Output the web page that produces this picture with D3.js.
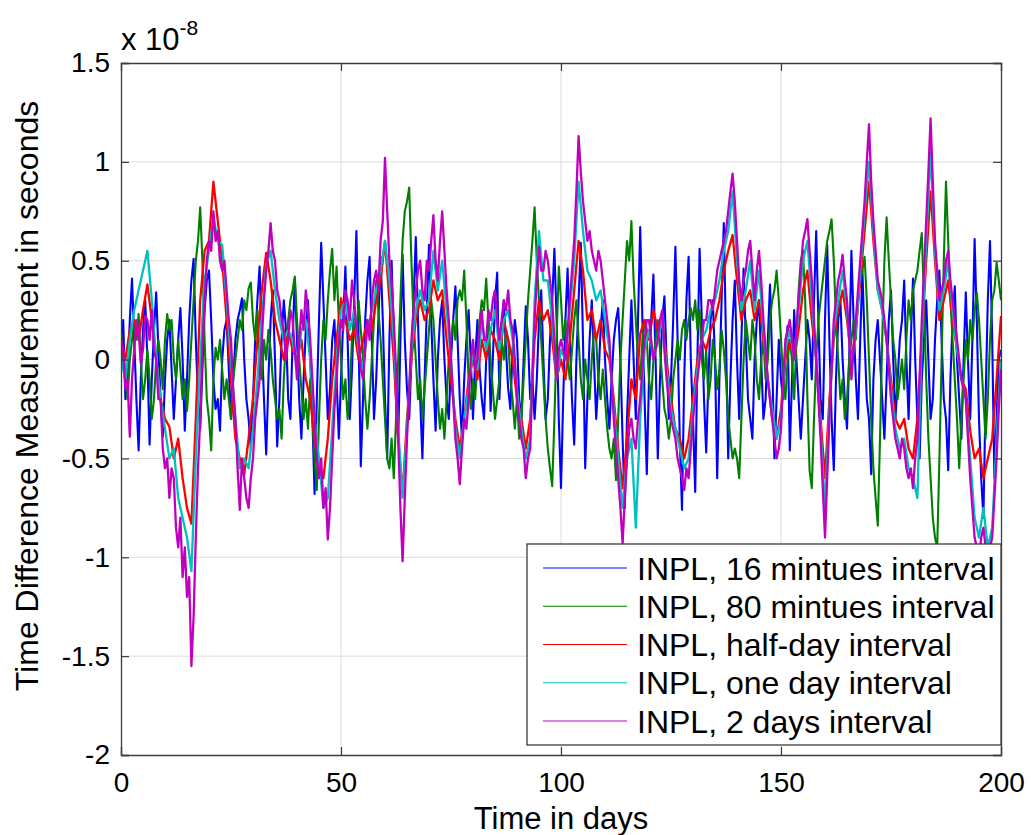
<!DOCTYPE html>
<html><head><meta charset="utf-8">
<script src="https://cdn.jsdelivr.net/npm/d3@7"></script>
<style>
body{margin:0;background:#fff}
svg{display:block}
text{font-family:"Liberation Sans",Arial,Helvetica,sans-serif;fill:#000}
</style>
</head><body>
<svg id="chart" width="1031" height="835"></svg>
<script>
// ---- data (values in units of 1e-8 s) ----
const xTicks = [0, 50, 100, 150, 200];
const yTicks = [-2, -1.5, -1, -0.5, 0, 0.5, 1, 1.5];
const yTickLabels = ["-2", "-1.5", "-1", "-0.5", "0", "0.5", "1", "1.5"];
const seriesNames = ["INPL, 16 mintues interval", "INPL, 80 mintues interval", "INPL, half-day interval", "INPL, one day interval", "INPL, 2 days interval"];
const stepBlue = 0.5, stepGreen = 0.5, stepRed = 1, stepCyan = 1, stepMagenta = 0.5;

const blue16min = [
0.0,0.2,-0.2,-0.1,0.2,0.41,0.1,-0.2,-0.46,-0.1,0.15,0.3,0.0,-0.43,-0.1,0.15,0.34,0.05,-0.2,-0.39,
-0.1,0.1,0.2,-0.05,-0.3,-0.1,0.1,0.26,0.0,-0.36,-0.1,0.2,0.4,0.51,0.1,-0.2,-0.35,-0.05,0.25,0.4,
0.45,0.2,-0.1,-0.25,-0.2,-0.36,0.0,0.15,0.2,-0.05,-0.3,-0.1,0.1,0.2,0.25,0.31,0.0,-0.2,-0.3,-0.45,
-0.2,0.1,0.3,0.47,0.1,-0.2,-0.48,-0.1,0.2,0.35,0.0,-0.44,-0.2,0.1,0.3,0.15,-0.2,-0.3,0.1,0.41,
0.1,-0.2,-0.4,-0.1,0.15,0.3,0.0,-0.3,-0.68,-0.2,0.2,0.59,0.3,0.0,-0.3,-0.15,0.1,0.2,-0.1,-0.4,
-0.1,0.2,0.47,0.1,-0.3,-0.05,0.3,0.65,0.1,-0.54,-0.2,0.2,0.4,0.52,0.1,-0.3,-0.1,0.2,0.52,0.2,
-0.2,-0.5,0.1,0.5,0.1,-0.2,-0.41,0.1,0.53,0.1,-0.15,-0.3,0.0,0.3,0.62,0.2,-0.2,-0.5,-0.1,0.25,
0.58,0.2,-0.1,-0.36,0.0,0.2,0.3,0.0,-0.2,-0.3,0.0,0.2,0.37,0.1,-0.2,-0.4,-0.1,0.1,0.25,0.0,
-0.3,0.0,0.2,-0.05,-0.2,-0.3,0.0,0.2,-0.26,0.0,0.3,0.44,-0.2,0.1,0.3,0.05,-0.15,-0.25,0.05,0.2,
0.1,-0.2,-0.3,0.0,0.27,0.1,-0.2,-0.1,-0.3,-0.1,0.2,0.35,0.0,-0.3,-0.2,0.1,0.3,0.56,0.2,-0.3,
-0.65,-0.2,0.2,0.46,0.1,-0.2,-0.43,0.0,0.3,0.59,0.1,-0.55,-0.2,0.1,0.3,0.0,-0.3,-0.1,0.15,0.3,
0.0,-0.2,-0.35,-0.1,0.1,0.2,0.26,0.0,-0.4,-0.75,-0.3,0.0,0.3,0.0,-0.3,0.2,0.67,0.2,-0.2,-0.58,
-0.1,0.2,0.43,0.0,-0.5,-0.1,0.2,0.32,0.0,-0.3,-0.1,0.2,0.57,0.1,-0.4,-0.76,-0.1,0.3,0.52,0.0,
-0.3,-0.67,0.0,0.56,0.2,-0.2,-0.47,-0.1,0.2,0.3,0.0,-0.6,-0.1,0.3,0.69,0.1,-0.5,-0.1,0.2,0.4,
0.0,-0.3,0.1,0.46,0.1,-0.2,-0.3,-0.4,0.0,0.2,0.3,0.0,-0.3,-0.2,0.1,0.38,0.0,-0.5,-0.2,0.1,
-0.1,-0.2,0.05,0.17,-0.46,-0.1,0.25,0.0,-0.2,-0.4,-0.2,0.0,0.2,0.1,-0.1,0.3,0.65,0.2,-0.2,-0.3,
0.2,0.58,0.1,-0.3,-0.56,-0.1,0.2,0.3,0.0,-0.2,-0.35,0.0,0.55,0.2,-0.1,-0.3,0.1,0.45,0.1,-0.2,
-0.3,-0.58,-0.1,0.1,0.2,0.0,-0.2,-0.4,-0.1,0.2,0.35,0.0,-0.3,-0.1,0.1,0.2,0.4,0.0,-0.3,0.1,
0.41,0.0,-0.3,-0.5,-0.1,0.1,0.3,0.0,-0.3,-0.2,0.1,0.3,0.45,0.1,-0.2,-0.3,-0.56,-0.1,0.2,0.37,
0.0,-0.2,-0.4,0.0,0.34,0.0,-0.3,0.1,0.61,0.2,-0.3,-0.6,-0.8,-0.2,0.3,0.6,0.1,-0.6,-0.3,0.0,0.05];

const green80min = [
0.15,0.0,-0.1,-0.2,0.0,0.1,0.2,0.1,0.23,0.0,-0.2,-0.1,0.05,-0.1,-0.3,-0.2,0.0,0.1,0.0,-0.15,
0.1,0.23,0.15,0.2,0.0,-0.1,0.1,-0.05,-0.2,-0.1,-0.26,-0.1,0.1,0.3,0.5,0.6,0.77,0.5,0.1,-0.2,
-0.3,-0.46,-0.1,0.06,0.0,0.1,-0.05,-0.2,-0.1,-0.2,-0.3,-0.1,0.0,0.1,0.2,0.15,0.3,0.25,0.36,0.39,
0.2,0.1,0.25,0.0,-0.1,0.1,0.0,0.15,0.05,-0.1,-0.2,-0.3,-0.25,-0.4,-0.1,0.1,0.2,0.3,0.35,0.42,
0.2,0.0,-0.15,-0.3,-0.2,-0.35,-0.1,-0.3,-0.5,-0.66,-0.3,0.0,0.2,0.1,0.3,0.45,0.56,0.3,0.47,0.2,
0.0,-0.2,-0.1,-0.3,-0.15,0.1,0.2,0.1,0.3,0.15,0.0,-0.2,-0.35,-0.2,0.0,0.2,0.4,0.25,0.1,-0.1,
-0.3,-0.5,-0.55,-0.4,-0.6,-0.3,0.0,0.3,0.6,0.75,0.8,0.87,0.5,0.2,0.0,-0.2,-0.1,-0.3,-0.15,0.0,
0.15,0.3,0.2,0.0,-0.2,-0.35,-0.25,-0.4,-0.2,0.0,0.1,0.2,0.1,0.3,0.35,0.3,0.45,0.2,-0.1,-0.25,
-0.1,-0.2,0.0,0.2,0.3,0.25,0.41,0.2,0.0,-0.15,-0.3,-0.2,-0.1,0.1,0.0,0.15,0.1,-0.1,-0.2,-0.35,
-0.2,-0.4,-0.3,-0.1,0.1,0.3,0.45,0.6,0.77,0.5,0.3,0.1,-0.1,-0.3,-0.45,-0.55,-0.64,-0.3,0.1,0.47,
0.3,0.1,0.2,0.0,-0.1,0.05,0.2,0.3,0.1,-0.1,-0.2,0.0,-0.1,-0.2,0.0,0.15,0.1,-0.1,-0.2,-0.05,
-0.2,-0.35,-0.45,-0.5,-0.4,-0.61,-0.3,0.0,0.2,0.4,0.6,0.5,0.7,0.4,0.2,0.0,-0.1,0.1,0.2,0.1,
-0.1,-0.2,0.0,0.1,0.2,0.05,-0.1,-0.25,-0.3,-0.4,-0.3,-0.1,0.0,0.1,0.0,0.15,0.2,0.1,0.2,0.26,
0.2,0.3,0.15,0.25,0.0,-0.1,0.05,-0.2,-0.1,0.1,0.0,-0.15,-0.05,0.15,0.05,-0.1,-0.3,-0.4,-0.5,-0.45,
-0.5,-0.6,-0.3,0.0,0.2,0.1,0.0,0.2,0.1,-0.1,-0.2,0.0,0.1,-0.1,0.0,0.2,0.3,0.35,0.45,0.3,
0.1,-0.1,-0.2,0.0,0.1,0.0,-0.2,0.1,0.35,0.5,0.55,0.3,-0.2,-0.56,-0.65,-0.3,0.0,0.2,0.3,0.4,
0.5,0.6,0.65,0.71,0.5,0.2,0.0,-0.2,-0.1,-0.3,-0.2,0.0,0.1,0.2,0.1,0.3,0.4,0.45,0.52,0.3,
0.0,-0.3,-0.55,-0.7,-0.84,-0.4,0.1,0.5,0.72,0.5,0.3,0.1,0.0,-0.2,-0.1,0.0,-0.15,0.1,0.3,0.2,
0.35,0.4,0.45,0.55,0.64,0.3,-0.1,-0.4,-0.6,-0.8,-0.9,-0.95,-0.5,0.0,0.5,0.9,0.6,0.3,0.1,-0.1,
-0.3,-0.55,-0.3,-0.1,0.1,0.0,0.2,0.1,0.25,0.34,0.2,0.0,-0.2,-0.4,-0.2,0.1,0.3,0.35,0.49,0.4,0.3];

const redHalfDay = [
0.1,0.0,0.15,0.2,0.1,0.25,0.38,0.2,0.0,-0.2,
-0.3,-0.34,-0.5,-0.4,-0.6,-0.75,-0.83,-0.3,0.3,0.55,
0.6,0.9,0.7,0.5,0.2,-0.1,-0.4,-0.5,-0.58,-0.4,
-0.2,0.1,0.35,0.54,0.4,0.2,0.1,0.0,0.15,0.05,
0.0,0.1,-0.1,-0.2,-0.4,-0.55,-0.6,-0.4,-0.1,0.1,
0.31,0.2,0.1,0.15,0.0,0.1,0.2,0.15,0.3,0.4,
0.6,0.3,0.0,-0.4,-0.68,-0.3,0.0,0.2,0.3,0.2,
0.25,0.4,0.3,0.35,0.1,-0.1,-0.3,-0.45,-0.3,-0.1,
0.0,-0.1,0.1,0.0,0.15,0.1,0.0,0.2,0.1,0.0,
-0.2,-0.3,-0.45,-0.3,0.1,0.3,0.2,0.25,0.1,-0.1,
0.0,-0.1,0.1,0.35,0.6,0.45,0.2,0.25,0.1,0.2,
0.05,0.0,-0.2,-0.45,-0.65,-0.4,-0.1,-0.2,0.13,0.2,
0.1,0.25,0.15,0.2,0.0,-0.2,-0.35,-0.4,-0.5,-0.4,
-0.2,0.0,0.1,0.05,0.15,0.2,0.3,0.45,0.55,0.63,
0.4,0.2,0.3,0.35,0.2,0.3,0.1,-0.1,-0.3,-0.4,
-0.25,0.0,0.1,0.0,0.15,0.35,0.45,0.2,0.0,-0.3,
-0.6,-0.2,0.1,0.25,0.35,0.2,0.0,0.15,0.4,0.65,
0.9,0.6,0.35,0.25,0.1,-0.1,-0.3,-0.35,-0.3,-0.45,
-0.5,-0.3,0.1,0.5,0.85,0.5,0.2,0.3,0.4,0.2,
0.05,-0.1,-0.15,-0.36,-0.5,-0.45,-0.6,-0.5,-0.4,-0.1,
0.22];

const cyanOneDay = [
0.0,-0.1,0.1,0.25,0.35,0.45,0.55,0.3,0.0,-0.2,
-0.35,-0.5,-0.45,-0.7,-0.8,-0.9,-1.07,-0.5,0.0,0.4,
0.55,0.72,0.6,0.58,0.3,0.0,-0.3,-0.55,-0.5,-0.55,
-0.35,-0.1,0.2,0.48,0.55,0.35,0.2,0.1,0.15,0.1,
-0.05,0.15,0.2,0.0,-0.3,-0.5,-0.75,-0.7,-0.35,0.0,
0.25,0.3,0.15,0.25,0.05,-0.05,0.15,0.25,0.35,0.45,
0.6,0.4,0.1,-0.35,-0.7,-0.35,0.05,0.25,0.35,0.25,
0.3,0.55,0.35,0.5,0.25,0.0,-0.35,-0.5,-0.3,-0.15,
0.05,-0.05,0.2,0.05,0.15,0.25,0.05,0.2,0.25,0.1,
-0.15,-0.35,-0.5,-0.4,0.3,0.65,0.4,0.4,0.2,-0.1,
0.05,0.0,0.25,0.5,0.9,0.65,0.45,0.4,0.3,0.35,
0.2,0.05,-0.25,-0.5,-0.75,-0.5,-0.4,-0.85,-0.3,0.05,
0.15,0.0,0.1,0.2,-0.05,-0.25,-0.35,-0.45,-0.55,-0.5,
-0.25,-0.05,0.1,0.15,0.25,0.3,0.4,0.55,0.65,0.85,
0.5,0.25,0.35,0.5,0.25,0.45,0.15,-0.1,-0.25,-0.4,
-0.3,0.05,0.15,0.0,0.25,0.5,0.6,0.3,0.0,-0.35,
-0.75,-0.25,0.15,0.3,0.45,0.25,-0.05,0.15,0.45,0.75,
1.0,0.65,0.35,0.25,0.1,-0.15,-0.35,-0.45,-0.4,-0.55,
-0.6,-0.7,0.1,0.6,1.05,0.55,0.25,0.35,0.5,0.25,
0.05,-0.1,-0.2,-0.5,-0.8,-0.9,-0.75,-0.95,-0.85,-0.4,
0.0];

const magenta2Days = [
0.1,0.05,-0.15,-0.1,-0.39,-0.1,0.05,0.2,0.15,-0.02,0.05,0.22,0.2,0.1,0.25,0.05,0.0,-0.2,-0.2,-0.45,
-0.55,-0.5,-0.7,-0.55,-0.6,-0.85,-0.95,-0.8,-1.1,-0.95,-1.2,-1.1,-1.55,-1.3,-0.9,-0.55,-0.3,0.05,0.3,0.5,
0.6,0.55,0.75,0.6,0.65,0.5,0.45,0.5,0.35,0.2,0.1,-0.15,-0.3,-0.55,-0.76,-0.5,-0.6,-0.7,-0.75,-0.6,
-0.5,-0.3,-0.2,-0.1,0.1,0.3,0.45,0.55,0.69,0.55,0.5,0.35,0.3,0.2,0.15,0.0,0.1,0.25,0.2,0.05,
-0.1,0.1,0.25,0.15,0.35,0.25,0.1,-0.1,-0.3,-0.5,-0.6,-0.5,-0.75,-0.65,-0.91,-0.75,-0.5,-0.25,-0.1,0.1,
0.2,0.15,0.35,0.3,0.2,0.4,0.3,0.15,0.1,-0.05,-0.1,0.05,0.2,0.1,0.3,0.4,0.45,0.35,0.6,0.7,
1.02,0.75,0.5,0.4,0.2,-0.05,-0.4,-0.75,-1.02,-0.7,-0.4,-0.15,0.1,0.25,0.35,0.45,0.5,0.35,0.3,0.5,
0.45,0.6,0.73,0.5,0.4,0.6,0.75,0.55,0.35,0.2,0.0,-0.2,-0.4,-0.5,-0.63,-0.45,-0.3,-0.35,-0.2,0.0,
0.1,-0.05,0.0,0.15,0.25,0.1,0.1,0.25,0.2,0.3,0.35,0.2,0.1,0.2,0.3,0.25,0.35,0.2,0.15,0.0,
-0.2,-0.3,-0.4,-0.45,-0.6,-0.5,-0.45,-0.1,0.2,0.4,0.57,0.45,0.45,0.55,0.5,0.4,0.3,0.1,-0.1,0.05,
0.1,0.05,0.0,0.15,0.3,0.45,0.6,0.85,1.13,0.95,0.8,0.7,0.6,0.65,0.55,0.5,0.45,0.55,0.5,0.4,
0.3,0.2,0.1,-0.1,-0.3,-0.45,-0.6,-0.75,-0.93,-0.7,-0.5,-0.35,-0.3,-0.4,-0.45,-0.3,-0.2,-0.05,0.1,0.2,
0.2,0.1,0.0,0.05,0.1,0.2,0.25,0.05,-0.1,-0.2,-0.3,-0.35,-0.4,-0.5,-0.55,-0.6,-0.66,-0.55,-0.6,-0.45,
-0.3,-0.2,-0.1,0.0,0.1,0.2,0.2,0.3,0.3,0.25,0.35,0.45,0.5,0.55,0.6,0.65,0.75,0.85,0.94,0.8,
0.6,0.4,0.3,0.4,0.45,0.55,0.6,0.45,0.3,0.45,0.55,0.4,0.2,0.05,-0.1,-0.2,-0.3,-0.4,-0.5,-0.45,
-0.35,-0.1,0.1,0.15,0.2,0.1,0.0,0.15,0.3,0.45,0.6,0.65,0.71,0.55,0.4,0.2,0.0,-0.2,-0.4,-0.65,
-0.9,-0.6,-0.3,-0.05,0.2,0.3,0.4,0.45,0.53,0.4,0.3,0.1,-0.1,0.05,0.2,0.35,0.5,0.65,0.8,1.0,
1.19,0.9,0.7,0.55,0.4,0.35,0.3,0.2,0.1,-0.05,-0.2,-0.3,-0.4,-0.45,-0.5,-0.4,-0.45,-0.55,-0.6,-0.55,
-0.65,-0.5,-0.4,-0.1,0.2,0.45,0.7,0.95,1.22,0.9,0.6,0.45,0.3,0.35,0.4,0.5,0.55,0.4,0.3,0.2,
0.1,0.0,-0.1,-0.15,-0.2,-0.4,-0.6,-0.75,-0.9,-0.95,-1.0,-0.9,-0.85,-0.95,-1.05,-0.95,-0.9,-0.7,-0.5,-0.25,
-0.05];

// ---- layout ----
const L = 121, R = 1001, T = 63, B = 755;
const svg = d3.select("#chart");
const x = d3.scaleLinear().domain([0, 200]).range([L, R]);
const y = d3.scaleLinear().domain([-2, 1.5]).range([B, T]);

// grid
const grid = svg.append("g");
grid.selectAll("line.gx").data(xTicks.slice(1, -1)).join("line")
  .attr("x1", d => x(d)).attr("x2", d => x(d)).attr("y1", T).attr("y2", B)
  .attr("stroke", "#dcdcdc").attr("stroke-width", 1);
grid.selectAll("line.gy").data(yTicks.slice(1, -1)).join("line")
  .attr("x1", L).attr("x2", R).attr("y1", d => y(d)).attr("y2", d => y(d))
  .attr("stroke", "#dcdcdc").attr("stroke-width", 1);

// clip
svg.append("clipPath").attr("id", "clip").append("rect")
  .attr("x", L).attr("y", T).attr("width", R - L).attr("height", B - T);

const series = [
  {name: seriesNames[0], values: blue16min, step: stepBlue, color: "#0000ff", w: 2.1},
  {name: seriesNames[1], values: green80min, step: stepGreen, color: "#008000", w: 2.1},
  {name: seriesNames[2], values: redHalfDay, step: stepRed, color: "#ff0000", w: 2.3},
  {name: seriesNames[3], values: cyanOneDay, step: stepCyan, color: "#00bfbf", w: 2.3},
  {name: seriesNames[4], values: magenta2Days, step: stepMagenta, color: "#bf00bf", w: 2.3}
];

const gLines = svg.append("g").attr("clip-path", "url(#clip)");
series.forEach(s => {
  const line = d3.line().x((d, i) => x(i * s.step)).y(d => y(d));
  gLines.append("path").datum(s.values)
    .attr("d", line).attr("fill", "none")
    .attr("stroke", s.color).attr("stroke-width", s.w)
    .attr("stroke-linejoin", "round");
});

// axes (MATLAB-like: ticks inward on all sides)
const fs = 28;
const axB = svg.append("g").attr("transform", `translate(0,${B})`)
  .call(d3.axisBottom(x).tickValues(xTicks).tickSize(-8).tickPadding(17).tickFormat(d3.format("d")));
const axT = svg.append("g").attr("transform", `translate(0,${T})`)
  .call(d3.axisTop(x).tickValues(xTicks).tickSize(-8).tickFormat(""));
const axL = svg.append("g").attr("transform", `translate(${L},0)`)
  .call(d3.axisLeft(y).tickValues(yTicks).tickSize(-8).tickPadding(11).tickFormat((d, i) => yTickLabels[i]));
const axR = svg.append("g").attr("transform", `translate(${R},0)`)
  .call(d3.axisRight(y).tickValues(yTicks).tickSize(-8).tickFormat(""));
[axB, axT, axL, axR].forEach(a => {
  a.select(".domain").attr("stroke", "#3c3c3c").attr("stroke-width", 1.3);
  a.selectAll(".tick line").attr("stroke", "#3c3c3c").attr("stroke-width", 1.2);
  a.selectAll(".tick text").attr("font-size", fs).attr("font-family", '"Liberation Sans",Arial,sans-serif').attr("fill", "#000");
});

// exponent label
const ex = svg.append("text").attr("x", 121).attr("y", 50).attr("font-size", 31);
ex.append("tspan").text("x 10");
ex.append("tspan").attr("dy", -15).attr("font-size", 21).text("-8");

// axis titles
svg.append("text").attr("x", x(100)).attr("y", 829).attr("text-anchor", "middle")
  .attr("font-size", 31).text("Time in days");
svg.append("text").attr("transform", "translate(38,396) rotate(-90)")
  .attr("text-anchor", "middle").attr("font-size", 32).text("Time Difference Measurement in seconds");

// legend
const lg = svg.append("g");
lg.append("rect").attr("x", 527).attr("y", 544).attr("width", 474).attr("height", 201)
  .attr("fill", "#fff").attr("stroke", "#3c3c3c").attr("stroke-width", 1.3);
const rowY = d3.scalePoint().domain(seriesNames).range([568, 721]);
series.forEach(s => {
  lg.append("line").attr("x1", 543).attr("x2", 627).attr("y1", rowY(s.name)).attr("y2", rowY(s.name))
    .attr("stroke", s.color).attr("stroke-width", 1.2);
  lg.append("text").attr("x", 637).attr("y", rowY(s.name)).attr("dy", "0.36em")
    .attr("font-size", 32).text(s.name);
});
</script>
</body></html>
